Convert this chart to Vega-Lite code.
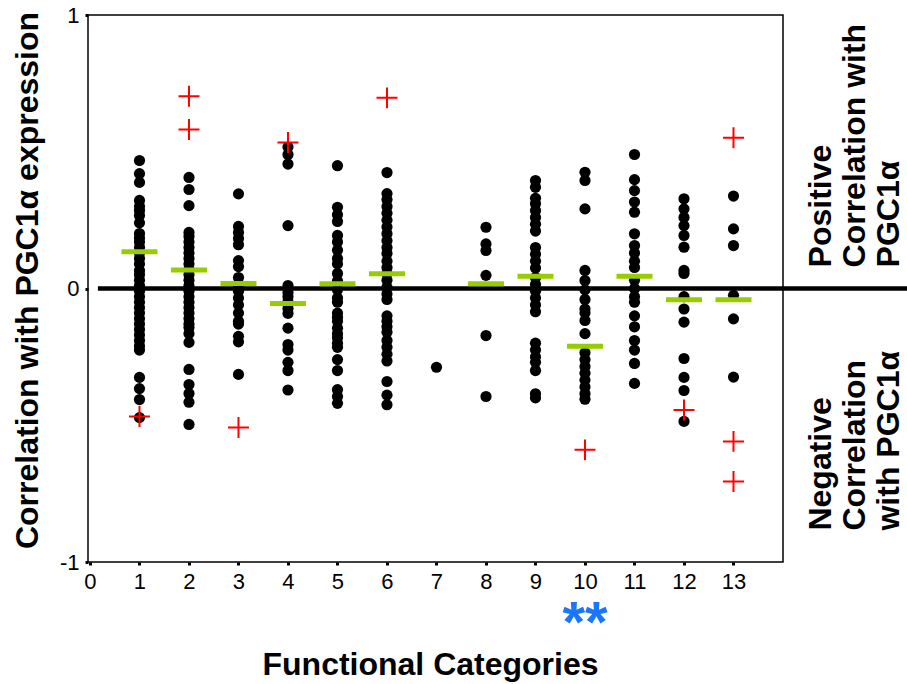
{
  "$schema": "https://vega.github.io/schema/vega-lite/v6.json",
  "width": 695,
  "height": 547,
  "autosize": {"type": "none"},
  "padding": {"left": 88, "top": 15, "right": 124, "bottom": 122},
  "background": "white",
  "config": {
    "font": "Liberation Sans",
    "view": {"stroke": "black", "strokeWidth": 1.5},
    "axis": {"labelColor": "black", "titleColor": "black", "tickColor": "black", "domain": false, "grid": false}
  },
  "datasets": {
    "pts": [
      {"c":1,"r":0.468},{"c":1,"r":0.42},{"c":1,"r":0.388},{"c":1,"r":0.322},{"c":1,"r":0.3},{"c":1,"r":0.285},{"c":1,"r":0.267},{"c":1,"r":0.24},{"c":1,"r":0.201},{"c":1,"r":0.185},{"c":1,"r":0.17},{"c":1,"r":0.15},{"c":1,"r":0.13},{"c":1,"r":0.11},{"c":1,"r":0.09},{"c":1,"r":0.066},{"c":1,"r":0.05},{"c":1,"r":0.03},{"c":1,"r":0.01},{"c":1,"r":-0.01},{"c":1,"r":-0.03},{"c":1,"r":-0.05},{"c":1,"r":-0.07},{"c":1,"r":-0.09},{"c":1,"r":-0.11},{"c":1,"r":-0.13},{"c":1,"r":-0.15},{"c":1,"r":-0.17},{"c":1,"r":-0.19},{"c":1,"r":-0.21},{"c":1,"r":-0.225},{"c":1,"r":-0.325},{"c":1,"r":-0.366},{"c":1,"r":-0.406},{"c":1,"r":-0.472},
      {"c":2,"r":0.406},{"c":2,"r":0.362},{"c":2,"r":0.303},{"c":2,"r":0.205},{"c":2,"r":0.19},{"c":2,"r":0.17},{"c":2,"r":0.15},{"c":2,"r":0.13},{"c":2,"r":0.11},{"c":2,"r":0.09},{"c":2,"r":0.07},{"c":2,"r":0.05},{"c":2,"r":0.03},{"c":2,"r":0.01},{"c":2,"r":-0.01},{"c":2,"r":-0.03},{"c":2,"r":-0.05},{"c":2,"r":-0.07},{"c":2,"r":-0.09},{"c":2,"r":-0.11},{"c":2,"r":-0.13},{"c":2,"r":-0.143},{"c":2,"r":-0.165},{"c":2,"r":-0.197},{"c":2,"r":-0.296},{"c":2,"r":-0.351},{"c":2,"r":-0.384},{"c":2,"r":-0.416},{"c":2,"r":-0.497},
      {"c":3,"r":0.346},{"c":3,"r":0.227},{"c":3,"r":0.205},{"c":3,"r":0.183},{"c":3,"r":0.16},{"c":3,"r":0.102},{"c":3,"r":0.08},{"c":3,"r":0.04},{"c":3,"r":0.015},{"c":3,"r":-0.01},{"c":3,"r":-0.035},{"c":3,"r":-0.06},{"c":3,"r":-0.09},{"c":3,"r":-0.12},{"c":3,"r":-0.13},{"c":3,"r":-0.175},{"c":3,"r":-0.195},{"c":3,"r":-0.314},
      {"c":4,"r":0.517},{"c":4,"r":0.49},{"c":4,"r":0.455},{"c":4,"r":0.23},{"c":4,"r":0.011},{"c":4,"r":-0.015},{"c":4,"r":-0.03},{"c":4,"r":-0.048},{"c":4,"r":-0.073},{"c":4,"r":-0.091},{"c":4,"r":-0.145},{"c":4,"r":-0.205},{"c":4,"r":-0.225},{"c":4,"r":-0.27},{"c":4,"r":-0.3},{"c":4,"r":-0.371},
      {"c":5,"r":0.449},{"c":5,"r":0.297},{"c":5,"r":0.27},{"c":5,"r":0.245},{"c":5,"r":0.194},{"c":5,"r":0.17},{"c":5,"r":0.14},{"c":5,"r":0.11},{"c":5,"r":0.09},{"c":5,"r":0.055},{"c":5,"r":0.028},{"c":5,"r":-0.005},{"c":5,"r":-0.035},{"c":5,"r":-0.05},{"c":5,"r":-0.09},{"c":5,"r":-0.105},{"c":5,"r":-0.12},{"c":5,"r":-0.145},{"c":5,"r":-0.165},{"c":5,"r":-0.18},{"c":5,"r":-0.2},{"c":5,"r":-0.215},{"c":5,"r":-0.26},{"c":5,"r":-0.3},{"c":5,"r":-0.37},{"c":5,"r":-0.395},{"c":5,"r":-0.42},
      {"c":6,"r":0.424},{"c":6,"r":0.347},{"c":6,"r":0.325},{"c":6,"r":0.3},{"c":6,"r":0.275},{"c":6,"r":0.25},{"c":6,"r":0.225},{"c":6,"r":0.2},{"c":6,"r":0.175},{"c":6,"r":0.15},{"c":6,"r":0.128},{"c":6,"r":0.1},{"c":6,"r":0.077},{"c":6,"r":0.055},{"c":6,"r":0.03},{"c":6,"r":0.005},{"c":6,"r":-0.02},{"c":6,"r":-0.04},{"c":6,"r":-0.1},{"c":6,"r":-0.12},{"c":6,"r":-0.14},{"c":6,"r":-0.16},{"c":6,"r":-0.19},{"c":6,"r":-0.215},{"c":6,"r":-0.24},{"c":6,"r":-0.265},{"c":6,"r":-0.34},{"c":6,"r":-0.39},{"c":6,"r":-0.425},
      {"c":7,"r":-0.288},
      {"c":8,"r":0.224},{"c":8,"r":0.163},{"c":8,"r":0.139},{"c":8,"r":0.048},{"c":8,"r":-0.172},{"c":8,"r":-0.395},
      {"c":9,"r":0.395},{"c":9,"r":0.37},{"c":9,"r":0.33},{"c":9,"r":0.31},{"c":9,"r":0.285},{"c":9,"r":0.26},{"c":9,"r":0.235},{"c":9,"r":0.21},{"c":9,"r":0.15},{"c":9,"r":0.125},{"c":9,"r":0.1},{"c":9,"r":0.075},{"c":9,"r":0.04},{"c":9,"r":0.015},{"c":9,"r":-0.01},{"c":9,"r":-0.035},{"c":9,"r":-0.06},{"c":9,"r":-0.085},{"c":9,"r":-0.2},{"c":9,"r":-0.225},{"c":9,"r":-0.25},{"c":9,"r":-0.27},{"c":9,"r":-0.3},{"c":9,"r":-0.385},{"c":9,"r":-0.4},
      {"c":10,"r":0.425},{"c":10,"r":0.395},{"c":10,"r":0.291},{"c":10,"r":0.066},{"c":10,"r":0.029},{"c":10,"r":-0.005},{"c":10,"r":-0.04},{"c":10,"r":-0.075},{"c":10,"r":-0.09},{"c":10,"r":-0.117},{"c":10,"r":-0.165},{"c":10,"r":-0.235},{"c":10,"r":-0.26},{"c":10,"r":-0.285},{"c":10,"r":-0.31},{"c":10,"r":-0.335},{"c":10,"r":-0.36},{"c":10,"r":-0.385},{"c":10,"r":-0.405},
      {"c":11,"r":0.49},{"c":11,"r":0.398},{"c":11,"r":0.358},{"c":11,"r":0.316},{"c":11,"r":0.279},{"c":11,"r":0.2},{"c":11,"r":0.157},{"c":11,"r":0.13},{"c":11,"r":0.1},{"c":11,"r":0.077},{"c":11,"r":0.03},{"c":11,"r":0.0},{"c":11,"r":-0.03},{"c":11,"r":-0.05},{"c":11,"r":-0.1},{"c":11,"r":-0.14},{"c":11,"r":-0.19},{"c":11,"r":-0.225},{"c":11,"r":-0.274},{"c":11,"r":-0.347},
      {"c":12,"r":0.328},{"c":12,"r":0.291},{"c":12,"r":0.26},{"c":12,"r":0.23},{"c":12,"r":0.194},{"c":12,"r":0.151},{"c":12,"r":0.066},{"c":12,"r":0.055},{"c":12,"r":-0.03},{"c":12,"r":-0.075},{"c":12,"r":-0.123},{"c":12,"r":-0.256},{"c":12,"r":-0.325},{"c":12,"r":-0.373},{"c":12,"r":-0.486},
      {"c":13,"r":0.338},{"c":13,"r":0.218},{"c":13,"r":0.157},{"c":13,"r":-0.025},{"c":13,"r":-0.111},{"c":13,"r":-0.324}
    ],
    "outliers": [
      {"c":1,"r":-0.468},{"c":2,"r":0.703},{"c":2,"r":0.581},{"c":3,"r":-0.508},{"c":4,"r":0.534},{"c":6,"r":0.697},{"c":10,"r":-0.59},{"c":12,"r":-0.444},{"c":13,"r":0.551},{"c":13,"r":-0.559},{"c":13,"r":-0.706}
    ],
    "medians": [
      {"c":1,"r":0.134},{"c":2,"r":0.068},{"c":3,"r":0.018},{"c":4,"r":-0.055},{"c":5,"r":0.017},{"c":6,"r":0.054},{"c":8,"r":0.017},{"c":9,"r":0.045},{"c":10,"r":-0.211},{"c":11,"r":0.045},{"c":12,"r":-0.041},{"c":13,"r":-0.041}
    ],
    "one": [{"k": 1}]
  },
  "layer": [
    {
      "data": {"name": "pts"},
      "mark": {"type": "point", "shape": "circle", "filled": true, "color": "black", "size": 125, "opacity": 1, "strokeWidth": 0},
      "encoding": {
        "x": {
          "field": "c", "type": "quantitative",
          "scale": {"domain": [-0.04, 14], "nice": false, "zero": false},
          "axis": {
            "values": [0,1,2,3,4,5,6,7,8,9,10,11,12,13],
            "tickSize": 3, "tickWidth": 3, "labelFontSize": 22, "labelPadding": 6,
            "title": "Functional Categories", "titleFontSize": 32, "titleFontWeight": "bold",
            "titleX": 342, "titleY": 102, "titleBaseline": "middle", "titleAlign": "center"
          }
        },
        "y": {
          "field": "r", "type": "quantitative",
          "scale": {"domain": [-1, 1], "nice": false, "zero": false},
          "axis": {
            "values": [-1, 0, 1], "labelExpr": "'' + datum.value",
            "tickSize": 3, "tickWidth": 3, "labelFontSize": 22, "labelPadding": 6,
            "title": "Correlation with PGC1α expression", "titleFontSize": 32, "titleFontWeight": "bold",
            "titleX": -61, "titleY": 265, "titleAngle": 270, "titleBaseline": "middle", "titleAlign": "center"
          }
        }
      }
    },
    {
      "data": {"name": "one"},
      "mark": {"type": "rule", "color": "black", "strokeWidth": 4.5},
      "encoding": {"x": {"datum": 0.16}, "x2": {"datum": 16.6}, "y": {"datum": 0}}
    },
    {
      "data": {"name": "outliers"},
      "mark": {"type": "point", "shape": "M-1,0L1,0M0,-1L0,1", "filled": false, "color": "#ff0000", "strokeWidth": 2, "size": 440, "opacity": 1},
      "encoding": {"x": {"field": "c", "type": "quantitative"}, "y": {"field": "r", "type": "quantitative"}}
    },
    {
      "data": {"name": "medians"},
      "mark": {"type": "tick", "orient": "horizontal", "color": "#99cc00", "thickness": 5, "size": 36, "opacity": 1},
      "encoding": {"x": {"field": "c", "type": "quantitative"}, "y": {"field": "r", "type": "quantitative"}}
    },
    {
      "data": {"name": "one"},
      "mark": {"type": "text", "angle": 270, "align": "left", "baseline": "middle", "fontSize": 32, "fontWeight": "bold", "lineHeight": 34, "color": "black"},
      "encoding": {"x": {"datum": 14.76}, "y": {"datum": 0.077}, "text": {"value": ["Positive", "Correlation with", "PGC1α"]}}
    },
    {
      "data": {"name": "one"},
      "mark": {"type": "text", "angle": 270, "align": "left", "baseline": "middle", "fontSize": 32, "fontWeight": "bold", "lineHeight": 34, "color": "black"},
      "encoding": {"x": {"datum": 14.76}, "y": {"datum": -0.885}, "text": {"value": ["Negative", "Correlation", "with PGC1α"]}}
    },
    {
      "data": {"name": "one"},
      "mark": {"type": "text", "align": "center", "baseline": "alphabetic", "fontSize": 58, "fontWeight": "bold", "color": "#1a75ff"},
      "encoding": {"x": {"datum": 10}, "y": {"datum": -1.294}, "text": {"value": "**"}}
    }
  ]
}
